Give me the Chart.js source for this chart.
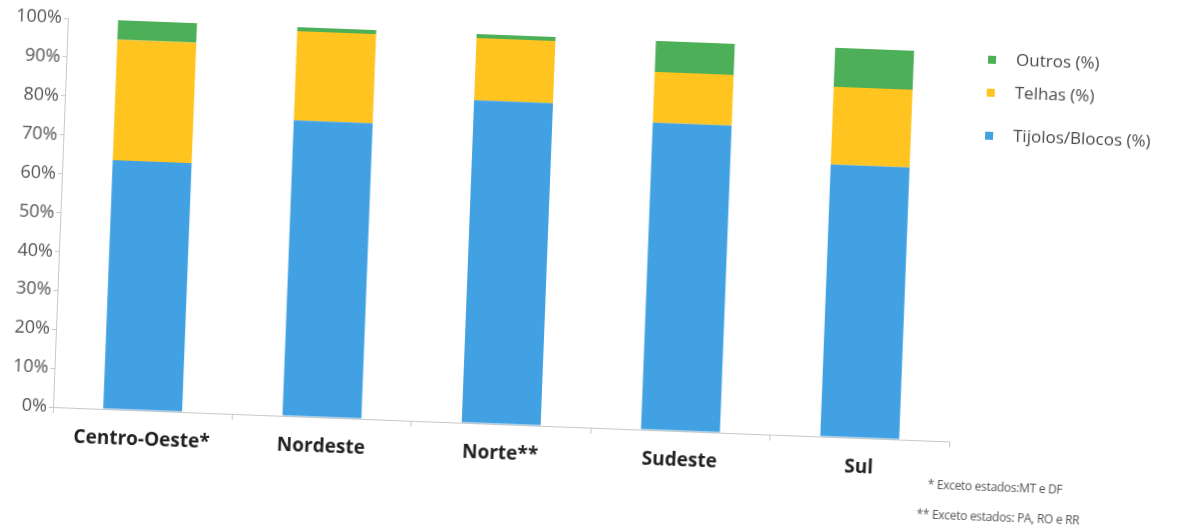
<!DOCTYPE html>
<html>
<head>
<meta charset="utf-8">
<title>Materiais por região</title>
<script src="https://cdn.jsdelivr.net/npm/chart.js@4.4.1/dist/chart.umd.min.js"></script>
<style>
  html, body { margin: 0; padding: 0; background: #fff; overflow: hidden; }
  #wrap {
    position: absolute; left: 0; top: 0; width: 1191px; height: 527px;
    transform-origin: 53px 407px;
    transform: rotate(2.2deg);
  }
  #myChart { position: absolute; left: 0; top: 0; }
  .nota {
    position: absolute; font-family: "Open Sans", sans-serif; font-size: 12px;
    color: #555; white-space: nowrap; letter-spacing: -0.3px;
  }
</style>
</head>
<body>
<div id="wrap">
  <canvas id="myChart" width="1191" height="527"></canvas>
  <div class="nota" style="left:930px; top:442px;">* Exceto estados:MT e DF</div>
  <div class="nota" style="left:920px; top:472px;">** Exceto estados: PA, RO e RR</div>
</div>
<script>
const regioes = ['Centro-Oeste*', 'Nordeste', 'Norte**', 'Sudeste', 'Sul'];
const tijolos = [64, 76, 83, 79, 70];
const telhas = [31, 23, 16, 13, 20];
const outros = [5, 1, 1, 8, 10];
const yTicks = [0, 10, 20, 30, 40, 50, 60, 70, 80, 90, 100];

// legenda desenhada à mão, à direita do gráfico
const legendaDireita = {
  id: 'legendaDireita',
  afterDraw(chart) {
    const ctx = chart.ctx;
    const area = chart.chartArea;
    const linhas = [6, 39, 82];
    const ds = chart.data.datasets.slice().reverse();
    ctx.save();
    ctx.font = '17px "Open Sans", sans-serif';
    ctx.textBaseline = 'middle';
    ds.forEach(function(d, i) {
      const y = area.top + linhas[i];
      ctx.fillStyle = d.backgroundColor;
      ctx.fillRect(area.right + 24, y - 4, 8, 8);
      ctx.fillStyle = '#4a4a4a';
      ctx.fillText(d.label, area.right + 52, y);
    });
    ctx.restore();
  }
};

const ctx = document.getElementById('myChart').getContext('2d');
const myChart = new Chart(ctx, {
  type: 'bar',
  data: {
    labels: regioes,
    datasets: [
      { label: 'Tijolos/Blocos (%)', data: tijolos, backgroundColor: '#42a1e2' },
      { label: 'Telhas (%)', data: telhas, backgroundColor: '#ffc41f' },
      { label: 'Outros (%)', data: outros, backgroundColor: '#4daf57' }
    ]
  },
  options: {
    responsive: false,
    animation: false,
    layout: { padding: { top: 18, right: 241, left: 0, bottom: 0 } },
    datasets: { bar: { categoryPercentage: 1, barPercentage: 0.44 } },
    plugins: { legend: { display: false }, tooltip: { enabled: false } },
    scales: {
      x: {
        stacked: true,
        afterFit: function(scale) { scale.height = 120; },
        grid: { drawOnChartArea: false, tickLength: 6, color: '#c8c8c8' },
        border: { color: '#c8c8c8' },
        ticks: { padding: 12, color: '#222', font: { family: '"Open Sans", sans-serif', size: 19, weight: 'bold' } }
      },
      y: {
        stacked: true,
        min: 0,
        max: 100,
        afterFit: function(scale) { scale.width = 53; },
        afterBuildTicks: function(scale) { scale.ticks = yTicks.map(v => ({ value: v })); },
        grid: { drawOnChartArea: false, tickLength: 4, color: '#c8c8c8' },
        border: { color: '#c8c8c8' },
        ticks: {
          padding: 2, color: '#555',
          font: { family: '"Open Sans", sans-serif', size: 18 },
          callback: function(v) { return v + '%'; }
        }
      }
    }
  },
  plugins: [legendaDireita]
});
</script>
</body>
</html>
